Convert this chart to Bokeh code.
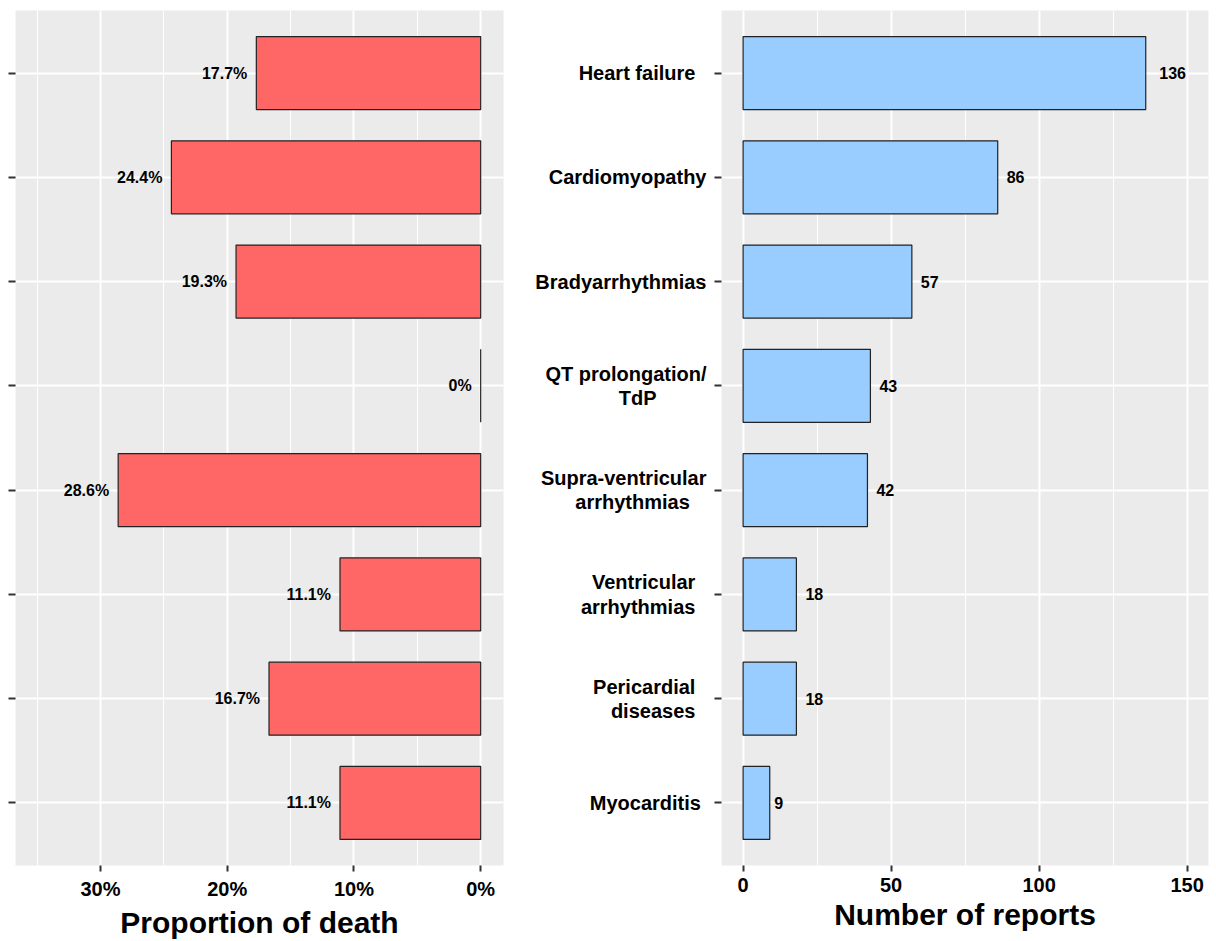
from bokeh.plotting import figure
from bokeh.models import FactorRange, Range1d, FixedTicker, PrintfTickFormatter, ColumnDataSource
from bokeh.layouts import row
from bokeh.core.properties import value
from bokeh.embed import file_html
from bokeh.resources import INLINE

NB = "\u00a0"

# ---- data (top to bottom) ----
categories = [
    "Heart failure" + NB * 2,
    "Cardiomyopathy",
    "Bradyarrhythmias",
    "QT prolongation/\nTdP" + NB * 9,
    "Supra-ventricular\narrhythmias" + NB * 3,
    "Ventricular" + NB * 2 + "\narrhythmias" + NB * 2,
    "Pericardial" + NB * 2 + "\ndiseases" + NB * 2,
    "Myocarditis" + NB,
]
death_pct = [17.7, 24.4, 19.3, 0, 28.6, 11.1, 16.7, 11.1]
reports = [136, 86, 57, 43, 42, 18, 18, 9]

pct_ticks = [0, 10, 20, 30]
pct_minor = [5, 15, 25, 35]
rep_ticks = [0, 50, 100, 150]
rep_minor = [25, 75, 125]

FONT = "Liberation Sans"
BG = "#EBEBEB"
factors = list(reversed(categories))  # bottom to top

def style(p):
    p.background_fill_color = BG
    p.border_fill_color = "white"
    p.outline_line_color = None
    p.xgrid.grid_line_color = "white"
    p.xgrid.grid_line_width = 2
    p.xgrid.minor_grid_line_color = "white"
    p.xgrid.minor_grid_line_width = 1
    p.ygrid.grid_line_color = "white"
    p.ygrid.grid_line_width = 2
    for ax in (p.xaxis[0], p.yaxis[0]):
        ax.axis_line_color = None
        ax.major_tick_line_color = "#333333"
        ax.major_tick_line_width = 2
        ax.major_tick_in = 0
        ax.major_tick_out = 6
        ax.minor_tick_in = 0
        ax.minor_tick_out = 0
        ax.major_label_text_font = FONT
        ax.major_label_text_font_style = "bold"
        ax.major_label_text_color = "black"
        ax.major_label_text_font_size = "20px"
        ax.axis_label_text_font = FONT
        ax.axis_label_text_font_style = "bold"
        ax.axis_label_text_color = "black"
        ax.axis_label_text_font_size = "30px"
    p.xaxis.major_label_standoff = 6
    p.xaxis.axis_label_standoff = 3

# ---- left panel ----
src1 = ColumnDataSource(dict(cat=categories, val=death_pct,
                             lab=[f"{v:g}%" for v in death_pct]))
p1 = figure(width=528, height=941, y_range=FactorRange(factors=factors, range_padding=0.025),
            x_range=Range1d(36.7, -1.8), output_backend="svg", toolbar_location=None,
            min_border_left=15, min_border_right=25, min_border_top=10, min_border_bottom=0)
style(p1)
p1.hbar(y="cat", left=0, right="val", height=0.7, source=src1,
        fill_color="#FF6666", line_color="#222222", line_width=1.2)
p1.text(x="val", y="cat", text="lab", source=src1, x_offset=-9,
        text_align="right", text_baseline="middle", text_color="black",
        text_font=value(FONT), text_font_style="bold", text_font_size="16px")
p1.xaxis.ticker = FixedTicker(ticks=pct_ticks, minor_ticks=pct_minor)
p1.xaxis.formatter = PrintfTickFormatter(format="%d%%")
p1.xaxis.axis_label = "Proportion of death"
p1.yaxis.major_label_text_color = None
p1.yaxis.major_label_standoff = 0
p1.yaxis.major_tick_out = 7

# ---- right panel ----
src2 = ColumnDataSource(dict(cat=categories, val=reports,
                             lab=[str(v) for v in reports],
                             off=[4.5 * len(str(v)) for v in reports]))
p2 = figure(width=688, height=941, y_range=FactorRange(factors=factors, range_padding=0.025),
            x_range=Range1d(-7.3, 157.2), output_backend="svg", toolbar_location=None,
            min_border_left=193, min_border_right=8, min_border_top=10, min_border_bottom=0)
style(p2)
p2.hbar(y="cat", left=0, right="val", height=0.7, source=src2,
        fill_color="#99CCFF", line_color="#222222", line_width=1.2)
p2.text(x="val", y="cat", text="lab", source=src2, x_offset="off",
        text_align="left", text_baseline="middle", text_color="black",
        text_font=value(FONT), text_font_style="bold", text_font_size="16px")
p2.xaxis.ticker = FixedTicker(ticks=rep_ticks, minor_ticks=rep_minor)
p2.xaxis.axis_label = "Number of reports"
p2.yaxis.major_tick_out = 7
p2.yaxis.major_label_standoff = 8
p2.yaxis.major_label_text_line_height = 1.1

layout = row(p1, p2)
open("out.html", "w").write(file_html(layout, INLINE))
